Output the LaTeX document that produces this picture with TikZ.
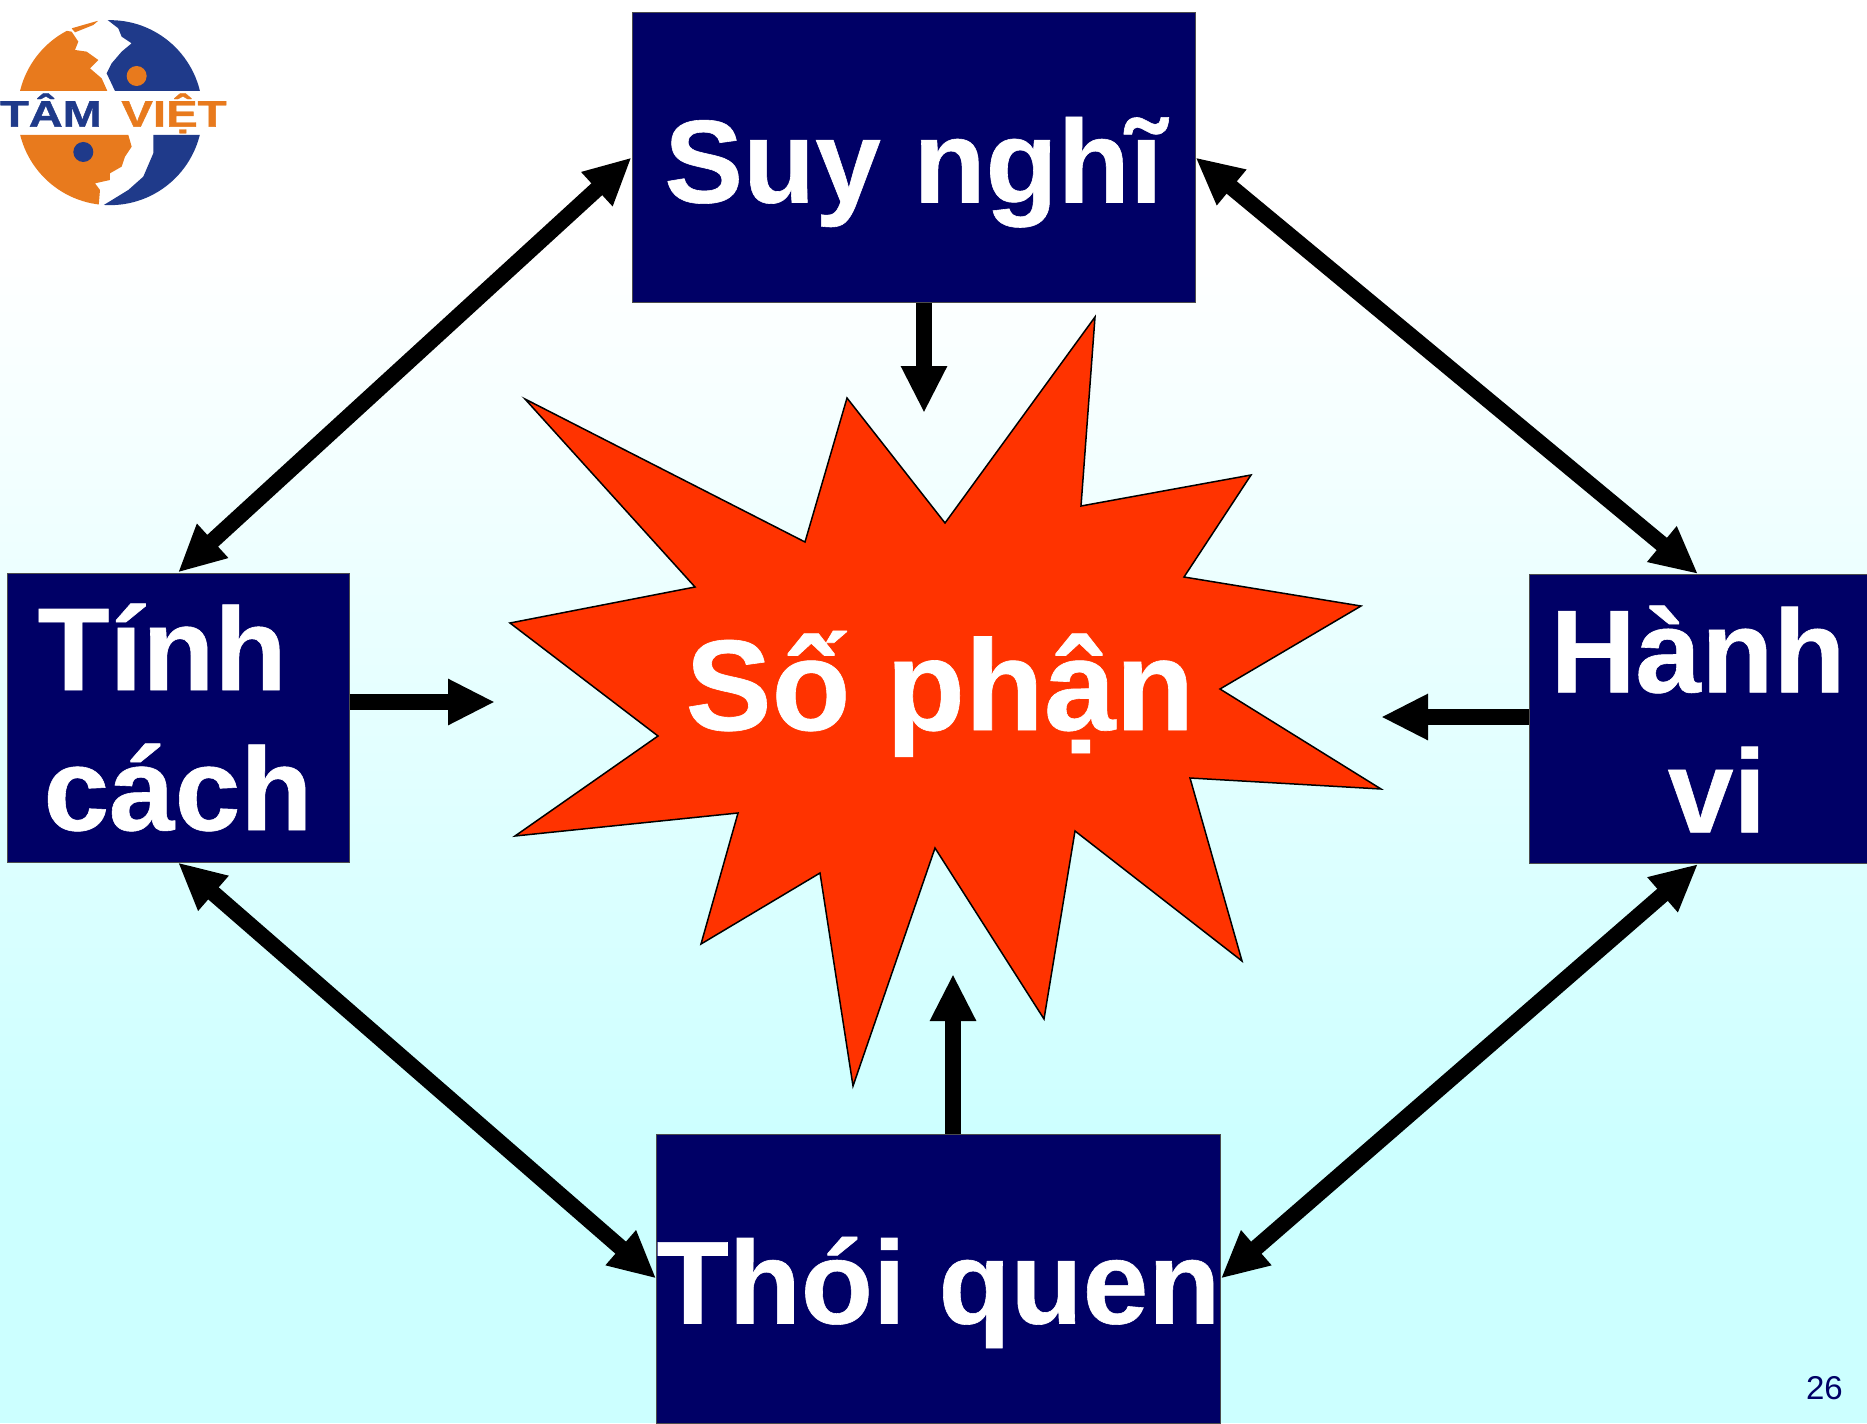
\documentclass[tikz,border=0pt]{standalone}
\usepackage{fontspec}
\setmainfont{Liberation Sans}
\newfontfamily\heavyfont[FakeBold=1]{Liberation Sans Bold}
\newfontfamily\boxfont[FakeBold=0.5]{Liberation Sans Bold}
\usetikzlibrary{arrows.meta}
\tikzset{>={Triangle[width=43pt,length=47pt]}}
\definecolor{boxblue}{HTML}{000066}
\definecolor{starred}{HTML}{FF3300}
\definecolor{bgcyan}{HTML}{CCFFFF}
\definecolor{logoblue}{HTML}{1F3A8A}
\definecolor{logoorange}{HTML}{E87A1D}
\tikzset{boxnode/.style={draw=black!70, line width=1pt, fill=boxblue, text=white, font=\fontsize{118}{140}\boxfont\selectfont, align=center, inner sep=0pt}}
\tikzset{link/.style={<->, line width=16pt}}
\tikzset{pointer/.style={->, line width=16pt}}

\begin{document}
\begin{tikzpicture}[x=1pt,y=-1pt]
\useasboundingbox (0,0) rectangle (1867,1423);
\fill[white] (0,0) rectangle (1867,251);
\shade[top color=white, bottom color=bgcyan] (0,250) rectangle (1867,1150);
\fill[bgcyan] (0,1149) rectangle (1867,1423);

% logo
\begin{scope}[x=0.3333pt,y=-0.3333pt]
\begin{scope}
\clip (330,338) circle[radius=92.5pt];
\fill[logoorange] (0,273) -- (322,273) -- (305,235) -- (270,205) -- (295,180) -- (260,155) -- (225,150) -- (235,125) -- (215,95) -- (0,60) -- cycle;
\fill[logoorange] (215,85) -- (295,62) -- (280,75) -- (225,97) -- cycle;
\fill[logoblue] (310,50) -- (355,85) -- (365,110) -- (395,130) -- (365,155) -- (335,190) -- (320,220) -- (345,273) -- (640,273) -- (640,50) -- cycle;
\fill[logoorange] (0,405) -- (385,405) -- (395,440) -- (375,470) -- (365,500) -- (330,520) -- (330,540) -- (285,550) -- (300,570) -- (295,630) -- (0,630) -- cycle;
\fill[logoblue] (460,405) -- (460,460) -- (430,530) -- (385,570) -- (310,616) -- (320,630) -- (640,630) -- (640,405) -- cycle;
\end{scope}
\fill[logoorange] (410,228) circle[radius=10pt];
\fill[logoblue] (250,456) circle[radius=10pt];
\node[anchor=base, text=logoblue, font=\fontsize{37}{40}\heavyfont\selectfont, xscale=1.27, inner sep=0pt] (logotam) at (153,380) {TÂM};
\node[anchor=base, text=logoorange, font=\fontsize{37}{40}\heavyfont\selectfont, xscale=1.28, inner sep=0pt] (logoviet) at (522,380) {VIỆT};
\end{scope}

% star
\draw[fill=starred, line width=1.5pt] (525,399) -- (805,542) -- (847,398) -- (945,523) -- (1095,317) -- (1081,506) -- (1251,475) -- (1184,577) -- (1361,606) -- (1220,689) -- (1381,789) -- (1190,778) -- (1242,961) -- (1075,831) -- (1044,1019) -- (935,848) -- (853,1086) -- (820,873) -- (701,944) -- (738,813) -- (515,836) -- (658,736) -- (510,623) -- (695,587) -- cycle;
\node[anchor=base, text=white, font=\fontsize{129}{140}\boxfont\selectfont, inner sep=0pt] (sophan) at (940,730) {Số phận};

\node[boxnode, minimum width=563pt, minimum height=289pt, text height=116pt, text depth=26pt] (suynghi) at (913.5,157.5) {Suy nghĩ};
\node[boxnode, minimum width=342pt, minimum height=289pt] (tinhcach) at (178,717.5) {Tính\kern32pt\\cách};
\node[boxnode, minimum width=338pt, minimum height=289pt] (hanhvi) at (1698,719) {Hành\\\kern38pt vi};
\node[boxnode, minimum width=563pt, minimum height=289pt, text height=116pt, text depth=26pt] (thoiquen) at (938.5,1278.5) {Thói quen};

\node[anchor=base east, text=boxblue, font=\fontsize{33}{36}\selectfont, inner sep=0pt] (pagenum) at (1843,1399) {26};

\coordinate (suytip) at (924,413);
\coordinate (tinhtip) at (495,702);
\coordinate (hanhtip) at (1381,717);
\coordinate (thoitip) at (953,974);

\draw[link] (suynghi.west) -- (tinhcach.north);
\draw[link] (suynghi.east) -- (hanhvi.north);
\draw[link] (tinhcach.south) -- (thoiquen.west);
\draw[link] (hanhvi.south) -- (thoiquen.east);

\draw[pointer] (suytip |- suynghi.south) -- (suytip);
\draw[pointer] (tinhcach.east |- tinhtip) -- (tinhtip);
\draw[pointer] (hanhvi.west |- hanhtip) -- (hanhtip);
\draw[pointer] (thoitip |- thoiquen.north) -- (thoitip);
\end{tikzpicture}
\end{document}
